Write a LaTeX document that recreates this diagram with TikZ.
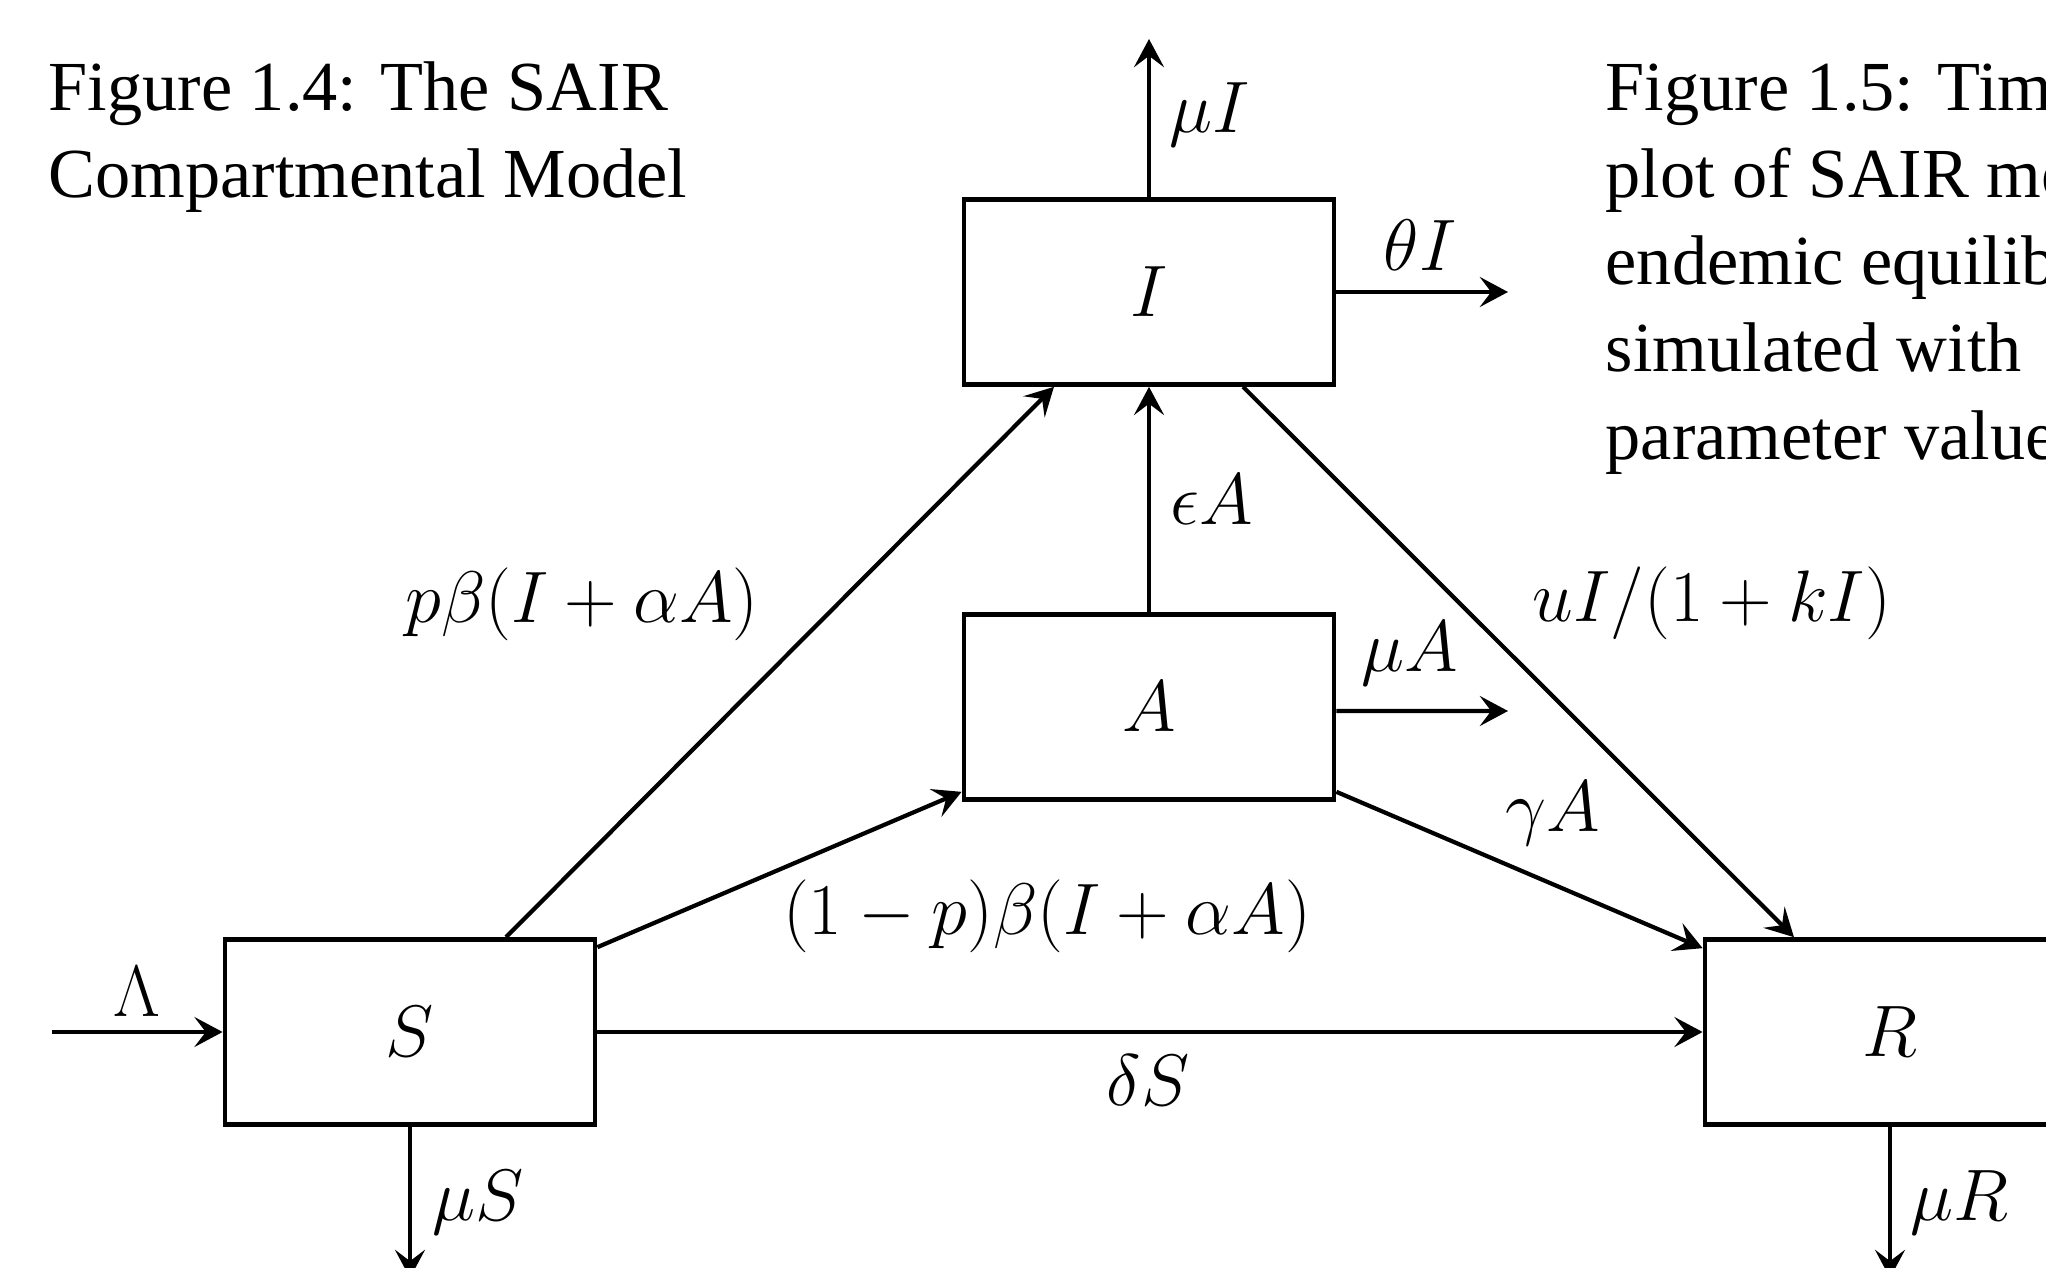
\documentclass[tikz,border=0pt]{standalone}
\usepackage{fontspec}
\newfontfamily\capfont{Liberation Serif}
\usetikzlibrary{arrows.meta}
\newcommand\labfont{\fontsize{21.3}{25}\selectfont}
\begin{document}
\begin{tikzpicture}[x=0.01cm,y=-0.01cm,
  box/.style={draw,line width=1.3pt,minimum width=3.7cm,minimum height=1.85cm,inner sep=0pt,font=\labfont},
  flow/.style={line width=1.2pt,-{Stealth[length=8pt,width=8.5pt,inset=3.2pt]}},
  lab/.style={inner sep=0pt,font=\labfont},
  captext/.style={anchor=base west,inner sep=0pt,font=\capfont\fontsize{20}{25}\selectfont}]
\useasboundingbox (0,0) rectangle (2046,1267);
\clip (0,0) rectangle (2046,1267);
% captions
\node[captext] (c1) at (48,111) {Figure 1.4: The SAIR};
\node[captext] (c2) at (48,198) {Compartmental Model};
\node[captext] (d1) at (1605,111) {Figure 1.5: Time series};
\node[captext] (d2) at (1605,198) {plot of SAIR model};
\node[captext] (d3) at (1605,285) {endemic equilibrium};
\node[captext] (d4) at (1605,372) {simulated with};
\node[captext] (d5) at (1605,459) {parameter values};
% boxes
\node[box] (I) at (1149,292) {$I$};
\node[box] (A) at (1149,707) {$A$};
\node[box] (S) at (410,1032) {$S$};
\node[box] (R) at (1890,1032) {$R$};
% free ends
\coordinate (Itop) at (1149,39);
\coordinate (Iright) at (1508,292);
\coordinate (Aright) at (1508,711);
\coordinate (Lin) at (52,1032);
\coordinate (Sbot) at (410,1278);
\coordinate (Rbot) at (1890,1278);
% flows
\draw[flow] (I.north) -- (Itop);
\draw[flow] (I.east) -- (Iright);
\draw[flow] (A.north) -- (I.south);
\draw[flow] ([yshift=-0.04cm]A.east) -- (Aright);
\draw[flow] ([xshift=0.96cm]S.north) -- ([xshift=-0.95cm]I.south);
\draw[flow] ([yshift=-0.1cm]S.north east) -- ([yshift=0.1cm]A.south west);
\draw[flow] ([yshift=0.1cm]A.south east) -- ([yshift=-0.11cm]R.north west);
\draw[flow] ([xshift=0.94cm]I.south) -- ([xshift=-0.96cm]R.north);
\draw[flow] (S.east) -- (R.west);
\draw[flow] (Lin) -- (S.west);
\draw[flow] (S.south) -- (Sbot);
\draw[flow] (R.south) -- (Rbot);
% labels
\node[lab] (lmuI) at (1210,115) {$\mu I$};
\node[lab] (ltheta) at (1420,245) {$\theta I$};
\node[lab] (leps) at (1212,500) {$\epsilon A$};
\node[lab] (lmuA) at (1410,654) {$\mu A$};
\node[lab] (lp) at (582,604) {$p\beta(I+\alpha A)$};
\node[lab] (l1p) at (1047,916) {$(1-p)\beta(I+\alpha A)$};
\node[lab] (lgam) at (1553,814) {$\gamma A$};
\node[lab] (lu) at (1712,603) {$uI/(1+kI)$};
\node[lab] (ldel) at (1148,1080) {$\delta S$};
\node[lab] (lLam) at (137,992) {$\Lambda$};
\node[lab] (lmuS) at (478,1203) {$\mu S$};
\node[lab] (lmuR) at (1959,1203) {$\mu R$};
\end{tikzpicture}
\end{document}
